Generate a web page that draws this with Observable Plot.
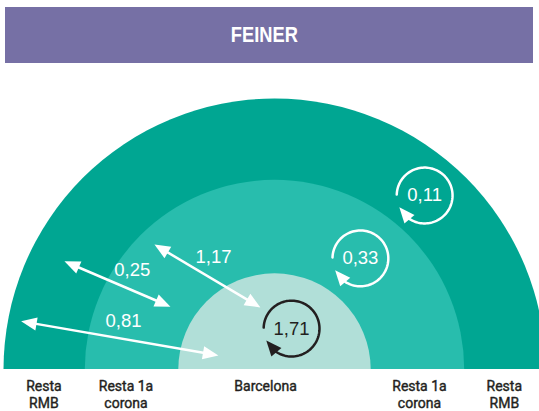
<!DOCTYPE html>
<html>
<head>
<meta charset="utf-8">
<script src="https://cdn.jsdelivr.net/npm/d3@7"></script>
<script src="https://cdn.jsdelivr.net/npm/@observablehq/plot@0.6"></script>
<style>
  html, body { margin: 0; padding: 0; background: white; }
  #title {
    box-sizing: border-box;
    margin: 7px 0 0 5px;
    width: 528px;
    height: 56px;
    line-height: 56px;
    padding-right: 9px;
    background: #7670a5;
    color: white;
    text-align: center;
    font-family: "Liberation Sans Narrow", "Arial Narrow", "Liberation Sans", sans-serif;
    font-weight: bold;
    font-size: 22px;
  }
  #title span { display: inline-block; transform: scaleX(0.83); }
  #chart svg { display: block; }
</style>
</head>
<body>
<div id="title"><span>FEINER</span></div>
<div id="chart"></div>
<script>
// ---- data ----
const ringNames = ["Resta RMB", "Resta 1a corona", "Barcelona"];
const ringRadius = [1, 0.70, 0.355];
const ringColor = ["#00a692", "#28bdad", "#b1dfd8"];

// flows between zones (double arrows)
const flowLabels = ["0,81", "0,25", "1,17"];
const flowStart = [[-0.935, 0.178], [-0.775, 0.399], [-0.443, 0.461]];
const flowEnd = [[-0.207, 0.052], [-0.384, 0.232], [-0.052, 0.229]];
const flowLabelPos = [[-0.557, 0.177], [-0.525, 0.366], [-0.225, 0.414]];

// flows inside each zone (circular arrows)
const selfLabels = ["1,71", "0,33", "0,11"];
const selfCenter = [[0.063, 0.151], [0.317, 0.410], [0.554, 0.642]];
const selfColor = ["#231f20", "white", "white"];
const selfRadius = 0.103;

// zone labels along the base
const axisLabels = ["Resta\nRMB", "Resta 1a\ncorona", "Barcelona", "Resta 1a\ncorona", "Resta\nRMB"];
const axisPos = [-0.851, -0.548, -0.033, 0.535, 0.848];

// ---- layout ----
const W = 539, H = 348, PX = 271; // pixels per unit (outer radius)
const xDomain = [-274 / PX, 265 / PX];
const yDomain = [0, 306 / PX];
const numFont = "'Liberation Sans Narrow', 'Arial Narrow', 'Liberation Sans', sans-serif";

const rings = ringNames.map((n, i) => ({name: n, r: ringRadius[i], color: ringColor[i], x: 0, y: 0}));

// arrowhead symbol with tip at the anchor, pointing up
const headSymbol = {
  draw(ctx, size) {
    const r = Math.sqrt(size / Math.PI);
    const L = 2.6 * r, Wd = 2.2 * r;
    ctx.moveTo(0, 0);
    ctx.lineTo(-Wd / 2, L);
    ctx.lineTo(Wd / 2, L);
    ctx.closePath();
  }
};
const rot = (dx, dy) => Math.atan2(dx, dy) * 180 / Math.PI;
const shorten = 8 / PX;

const links = [], heads = [];
flowLabels.forEach((lab, i) => {
  const [x1, y1] = flowStart[i], [x2, y2] = flowEnd[i];
  const len = Math.hypot(x2 - x1, y2 - y1);
  const ux = (x2 - x1) / len, uy = (y2 - y1) / len;
  links.push({x1: x1 + ux * shorten, y1: y1 + uy * shorten, x2: x2 - ux * shorten, y2: y2 - uy * shorten});
  heads.push({x: x1, y: y1, rotate: rot(-ux, -uy), color: "white"});
  heads.push({x: x2, y: y2, rotate: rot(ux, uy), color: "white"});
});

const arcPts = [];
const rad = d => d * Math.PI / 180;
selfLabels.forEach((lab, i) => {
  const [cx, cy] = selfCenter[i];
  for (let a = 178; a >= -130; a -= 3) {
    arcPts.push({id: lab, x: cx + selfRadius * Math.cos(rad(a)), y: cy + selfRadius * Math.sin(rad(a)), color: selfColor[i]});
  }
  const tx = cx + selfRadius * Math.cos(rad(-155)), ty = cy + selfRadius * Math.sin(rad(-155));
  const bx = cx + selfRadius * Math.cos(rad(-124)), by = cy + selfRadius * Math.sin(rad(-124));
  heads.push({x: tx, y: ty, rotate: rot(tx - bx, ty - by), color: selfColor[i]});
});

const flowText = flowLabels.map((t, i) => ({text: t, x: flowLabelPos[i][0], y: flowLabelPos[i][1]}));
const selfText = selfLabels.map((t, i) => ({text: t, x: selfCenter[i][0], y: selfCenter[i][1], color: selfColor[i]}));
const baseText = axisLabels.map((t, i) => ({text: t, x: axisPos[i], y: 0}));

const chart = Plot.plot({
  width: W,
  height: H,
  marginTop: 0, marginRight: 0, marginLeft: 0, marginBottom: 42,
  x: {domain: xDomain, axis: null},
  y: {domain: yDomain, axis: null},
  r: {type: "linear", domain: [0, 1], range: [0, PX]},
  marks: [
    Plot.dot(rings, {x: "x", y: "y", r: "r", fill: "color", clip: true, sort: null}),
    Plot.link(links, {x1: "x1", y1: "y1", x2: "x2", y2: "y2", stroke: "white", strokeWidth: 2.5}),
    Plot.line(arcPts, {x: "x", y: "y", z: "id", stroke: "color", strokeWidth: 2.5}),
    Plot.dot(heads, {x: "x", y: "y", rotate: "rotate", fill: "color", symbol: headSymbol, r: 6, stroke: null}),
    Plot.text(flowText, {x: "x", y: "y", text: "text", fill: "white", fontSize: 18.5, fontFamily: numFont}),
    Plot.text(selfText, {x: "x", y: "y", text: "text", fill: "color", fontSize: 18.5, fontFamily: numFont}),
    Plot.text(baseText, {x: "x", y: "y", text: "text", fill: "#231f20", stroke: "#231f20", strokeWidth: 0.4, fontSize: 14, lineHeight: 1.2, lineAnchor: "top", dy: 10, fontFamily: "Roboto, 'Liberation Sans', Arial, sans-serif"})
  ]
});
document.getElementById("chart").appendChild(chart);
</script>
</body>
</html>
